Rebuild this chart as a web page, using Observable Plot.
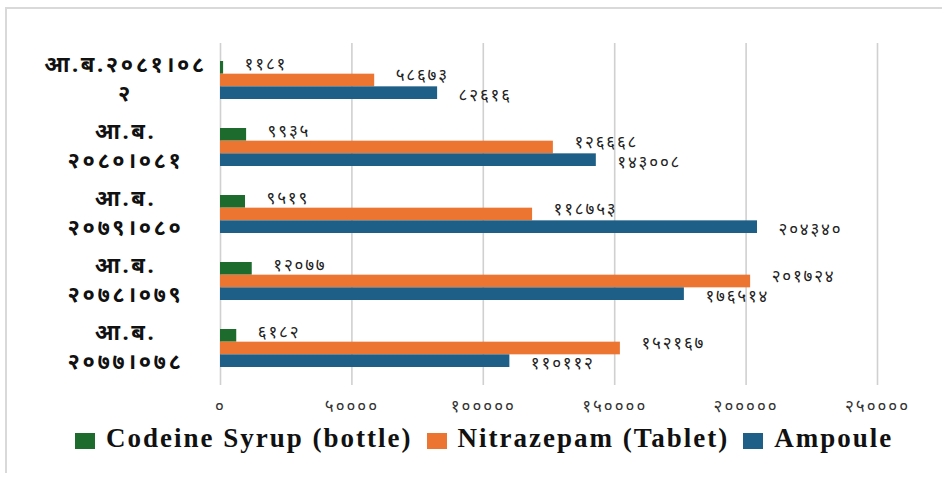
<!DOCTYPE html>
<html>
<head>
<meta charset="utf-8">
<script src="https://cdn.jsdelivr.net/npm/d3@7"></script>
<script src="https://cdn.jsdelivr.net/npm/@observablehq/plot@0.6"></script>
<style>
  html, body { margin: 0; padding: 0; background: #fff; }
  #wrap { position: relative; width: 942px; height: 477px; overflow: hidden; }
  #frame { position: absolute; left: 5px; top: 7px; width: 940px; height: 466px;
           border-left: 2px solid #d9d9d9; border-top: 2px solid #d9d9d9; box-sizing: border-box; }
  #chart { position: absolute; left: 0; top: 0; }
  #legend { position: absolute; left: 75px; top: 425px; display: flex; align-items: center;
            font-family: "Liberation Serif", "Times New Roman", serif; font-weight: bold;
            font-size: 27px; line-height: 27px; color: #111; letter-spacing: 2px; white-space: nowrap; }
  .item { display: flex; align-items: center; margin-right: 14px; }
  .sw { width: 20px; height: 16px; margin-right: 11px; margin-top: 4px; }
  g[aria-label="y-axis tick label"] text { letter-spacing: 2.6px; }
  g[aria-label="x-axis tick label"] text { letter-spacing: 2px; }
  g[aria-label="text"] text { letter-spacing: 1.8px; }
</style>
</head>
<body>
<div id="wrap">
  <div id="frame"></div>
  <div id="chart"></div>
  <div id="legend"></div>
</div>
<script>
// ---- data ----
const categories = ["आ.ब.२०८१।०८२", "आ.ब.२०८०।०८१", "आ.ब.२०७९।०८०", "आ.ब.२०७८।०७९", "आ.ब.२०७७।०७८"];
const categoryLabels = ["आ.ब.२०८१।०८\n२", "आ.ब.\n२०८०।०८१", "आ.ब.\n२०७९।०८०", "आ.ब.\n२०७८।०७९", "आ.ब.\n२०७७।०७८"];
const series = ["Codeine Syrup (bottle)", "Nitrazepam (Tablet)", "Ampoule"];
const codeine = [1181, 9935, 9519, 12077, 6182];
const nitrazepam = [58673, 126668, 118753, 201724, 152167];
const ampoule = [82616, 143008, 204340, 176514, 110112];
const colors = ["#1e6b2e", "#ed7532", "#1d5f86"];
const xTicks = [0, 50000, 100000, 150000, 200000, 250000];
const xTickLabels = ["०", "५००००", "१०००००", "१५००००", "२०००००", "२५००००"];

const deva = v => String(v).replace(/\d/g, d => "०१२३४५६७८९"[+d]);
const values = [codeine, nitrazepam, ampoule];
const barH = 12.67;
const labelShift = [-3, -5, 2];

const marks = [
  Plot.ruleX(xTicks, {stroke: "#d0d0d0", strokeWidth: 1.6})
];
values.forEach((vals, s) => {
  const rows = categories.map((c, i) => ({cat: c, v: vals[i]}));
  marks.push(Plot.barX(rows, {
    x: "v", y: "cat", fill: colors[s],
    insetTop: s * barH, insetBottom: (2 - s) * barH
  }));
  marks.push(Plot.text(rows, {
    x: "v", y: "cat", text: d => deva(d.v), dy: (s - 1) * barH + labelShift[s], dx: 21,
    textAnchor: "start", fontSize: 17, fill: "#222"
  }));
});
marks.push(Plot.axisX({
  ticks: xTicks, tickSize: 0, tickPadding: 14, fontSize: 17, fill: "#333", label: null,
  tickFormat: d => xTickLabels[xTicks.indexOf(d)]
}));
marks.push(Plot.axisY({
  tickSize: 0, tickPadding: 0, textAnchor: "middle", dx: -95, dy: -3, fontSize: 22,
  fontWeight: "bold", lineHeight: 1.32, fill: "#111", label: null,
  tickFormat: d => categoryLabels[categories.indexOf(d)]
}));

const chart = Plot.plot({
  width: 942, height: 420,
  marginLeft: 220, marginRight: 65, marginTop: 43, marginBottom: 35,
  style: {fontFamily: "'Noto Sans', 'DejaVu Sans', sans-serif", background: "transparent", overflow: "visible"},
  x: {domain: [0, 250000], axis: null},
  y: {domain: categories, paddingInner: 0.438, paddingOuter: 0.249, axis: null},
  marks
});
document.getElementById("chart").appendChild(chart);

const legend = document.getElementById("legend");
series.forEach((name, i) => {
  const item = document.createElement("div");
  item.className = "item";
  const sw = document.createElement("span");
  sw.className = "sw";
  sw.style.background = colors[i];
  item.appendChild(sw);
  item.appendChild(document.createTextNode(name));
  legend.appendChild(item);
});
</script>
</body>
</html>
